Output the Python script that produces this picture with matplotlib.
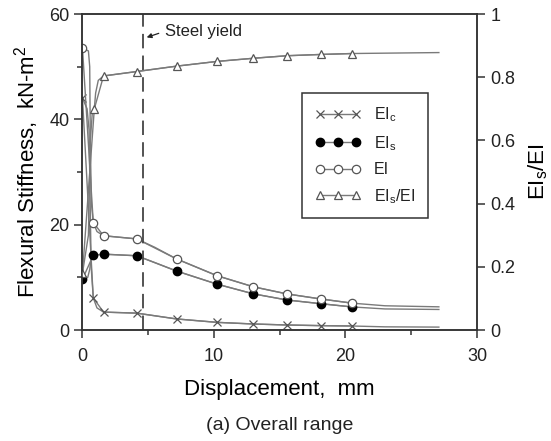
import matplotlib
matplotlib.use('Agg')
import matplotlib.pyplot as plt
from matplotlib.ticker import MultipleLocator, FuncFormatter

plt.rcParams['font.family'] = ['Liberation Sans', 'DejaVu Sans']
plt.rcParams['mathtext.fontset'] = 'custom'
plt.rcParams['mathtext.rm'] = 'Liberation Sans'
plt.rcParams['mathtext.it'] = 'Liberation Sans'
plt.rcParams['text.color'] = '#222222'

# marker points (displacement, mm)
disp = [0, 0.82, 1.6, 4.13, 7.15, 10.24, 13.0, 15.55, 18.1, 20.5]
EIc = [44.0, 6.1, 3.4, 3.2, 2.1, 1.45, 1.14, 0.95, 0.83, 0.76]
EIs = [9.65, 14.2, 14.4, 14.1, 11.2, 8.7, 6.86, 5.7, 5.0, 4.38]
EI = [53.5, 20.4, 17.9, 17.3, 13.5, 10.3, 8.2, 6.85, 5.9, 5.1]
disp_r = [0, 0.9, 1.6, 4.13, 7.15, 10.24, 13.0, 15.55, 18.1, 20.5]
ratio = [0.18, 0.70, 0.804, 0.818, 0.835, 0.85, 0.86, 0.868, 0.872, 0.875]

# curve points
cx_EIc = [0, 0.35, 0.5, 0.58, 0.66, 0.82, 1.1, 1.6, 4.13, 7.15, 10.24, 13.0, 15.55, 18.1, 20.5, 23.0, 27.1]
cy_EIc = [44.0, 42.0, 38.0, 25.0, 12.0, 6.1, 4.2, 3.4, 3.2, 2.1, 1.45, 1.14, 0.95, 0.83, 0.76, 0.6, 0.55]
cx_EIs = [0, 0.4, 0.55, 0.65, 0.82, 1.6, 4.13, 5.5, 7.15, 10.24, 13.0, 15.55, 18.1, 20.5, 23.0, 27.1]
cy_EIs = [9.65, 10.0, 11.5, 13.5, 14.2, 14.4, 14.1, 12.8, 11.2, 8.7, 6.86, 5.7, 5.0, 4.38, 4.0, 3.9]
cx_EI = [0, 0.45, 0.55, 0.6, 0.68, 0.82, 1.1, 1.6, 4.13, 5.5, 7.15, 10.24, 13.0, 15.55, 18.1, 20.5, 23.0, 27.1]
cy_EI = [53.5, 53.0, 50.0, 35.0, 24.0, 20.4, 18.7, 17.9, 17.3, 15.7, 13.5, 10.3, 8.2, 6.85, 5.9, 5.1, 4.6, 4.4]
cx_r = [0, 0.45, 0.6, 0.75, 0.9, 1.0, 1.2, 1.6, 4.13, 7.15, 10.24, 13.0, 15.55, 18.1, 20.5, 27.1]
cy_r = [0.18, 0.30, 0.60, 0.69, 0.70, 0.75, 0.79, 0.804, 0.818, 0.835, 0.85, 0.86, 0.868, 0.872, 0.875, 0.878]

yield_disp = 4.63

fig = plt.figure(figsize=(5.51, 4.41), dpi=100)
ax = fig.add_axes([0.1497, 0.2517, 0.7160, 0.7165])
ax2 = ax.twinx()

lc = '#7a7a7a'
ax.plot(cx_EIc, cy_EIc, color=lc, lw=1.0)
ax.plot(cx_EIs, cy_EIs, color=lc, lw=1.0)
ax.plot(cx_EI, cy_EI, color=lc, lw=1.0)
ax2.plot(cx_r, cy_r, color=lc, lw=1.0)

h1, = ax.plot(disp, EIc, ls='-', color=lc, lw=1.0, marker='x', ms=6, mec='#555555', mew=0.9)
h2, = ax.plot(disp, EIs, ls='-', color=lc, lw=1.0, marker='o', ms=6, mfc='black', mec='black')
h3, = ax.plot(disp, EI, ls='-', color=lc, lw=1.0, marker='o', ms=6, mfc='white', mec='#555555', mew=0.9)
h4, = ax2.plot(disp_r, ratio, ls='-', color=lc, lw=1.0, marker='^', ms=6, mfc='white', mec='#555555', mew=0.9)

# steel yield line
ax.axvline(yield_disp, color='#444444', lw=1.3, ls=(0, (8, 4)))
ax.annotate('', xy=(4.68, 55.4), xytext=(6.0, 56.5),
            arrowprops=dict(arrowstyle='-|>', color='#222222', lw=0.9, mutation_scale=7))
ax.text(6.25, 56.7, 'Steel yield', fontsize=12, va='center', ha='left')

ax.set_xlim(0, 30)
ax.set_ylim(0, 60)
ax2.set_ylim(0, 1)
ax.xaxis.set_major_locator(MultipleLocator(10))
ax.xaxis.set_minor_locator(MultipleLocator(5))
ax.yaxis.set_major_locator(MultipleLocator(20))
ax.yaxis.set_minor_locator(MultipleLocator(10))
ax2.yaxis.set_major_locator(MultipleLocator(0.2))
ax2.yaxis.set_major_formatter(FuncFormatter(lambda v, p: '0' if abs(v) < 1e-9 else ('1' if abs(v - 1) < 1e-9 else '%.1f' % v)))

for a in (ax, ax2):
    for s in a.spines.values():
        s.set_linewidth(1.1)
        s.set_color('#333333')
ax.tick_params(which='major', direction='out', length=6, width=1.1, labelsize=13, colors='#333333', labelcolor='#222222')
ax.tick_params(axis='x', which='major', pad=7)
ax.tick_params(which='minor', direction='out', length=3.5, width=1.1, colors='#333333')
ax2.tick_params(which='major', direction='out', length=6, width=1.1, labelsize=13, colors='#333333', labelcolor='#222222')

ax.set_xlabel('Displacement,  mm', fontsize=16, labelpad=10)
ax.set_ylabel('Flexural Stiffness,  kN-m$^2$', fontsize=16, labelpad=6)
ax2.set_ylabel('EI$_s$/EI', fontsize=16, labelpad=8)

leg = ax2.legend([h1, h2, h3, h4], ['EI$_c$', 'EI$_s$', 'EI', 'EI$_s$/EI'],
                 loc='upper right', bbox_to_anchor=(0.876, 0.75), borderaxespad=0,
                 fontsize=11.5, numpoints=3, handlelength=2.9, labelspacing=0.6,
                 fancybox=False, framealpha=1, edgecolor='#333333', borderpad=0.8,
                 handletextpad=0.8)
leg.get_frame().set_linewidth(1.1)

fig.text(0.508, 0.035, '(a) Overall range', fontsize=14, ha='center', va='center')

fig.savefig('out.png', dpi=100)
